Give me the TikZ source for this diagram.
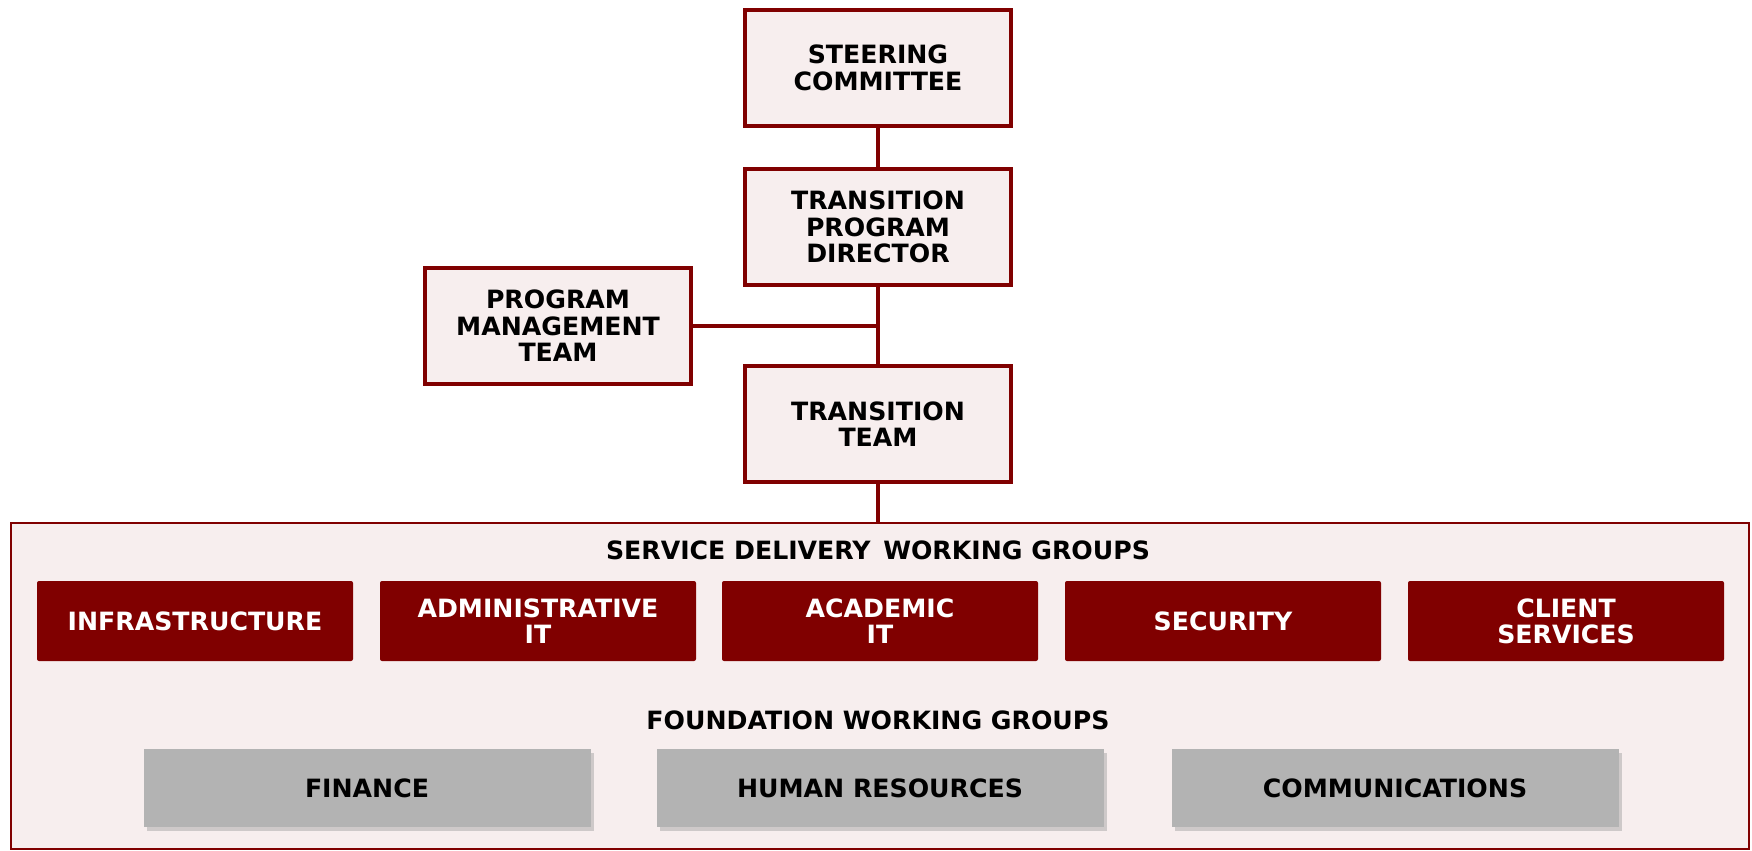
\documentclass[tikz,border=0pt]{standalone}
\usepackage{fontspec}
\setmainfont{DejaVu Sans}
\usepackage{tikz}
\usetikzlibrary{positioning,shadows}
\definecolor{granate}{HTML}{800000}
\definecolor{rosa}{HTML}{F7EEEE}
\definecolor{gris}{HTML}{B3B3B3}

\begin{document}
\begin{tikzpicture}
 	[x=0.5pt,y=-0.5pt,
 	caja/.style={rectangle,draw=granate,fill=rosa,line width=1.6pt,
 		inner sep=0pt,minimum width=133pt,minimum height=58pt,align=center,
 		font=\fontsize{12.6}{13.2}\selectfont\bfseries},
 	grupo/.style={rectangle,fill=granate,text=white,rounded corners=1pt,
 		inner sep=0pt,minimum width=158pt,minimum height=40pt,align=center,
 		font=\fontsize{12.6}{13}\selectfont\bfseries},
 	base/.style={rectangle,fill=gris,inner sep=0pt,
 		minimum width=223.5pt,minimum height=39pt,
 		drop shadow={shadow xshift=1.5pt,shadow yshift=-2pt,fill=black!35},
 		font=\fontsize{12.6}{13}\selectfont\bfseries},
 	titulo/.style={font=\fontsize{12.6}{13}\selectfont\bfseries},
 	linea/.style={draw=granate,line width=1.6pt}]
 	\useasboundingbox (0,0) rectangle (1752,851);
 	%  marco de los grupos de trabajo
 	\node[rectangle,draw=granate,fill=rosa,line width=1.2pt,inner sep=0pt,
 		minimum width=869pt,minimum height=163pt] (marco) at (880,686) {};
 	%  cajas de arriba
 	\node[caja] (steer) at (878,68) {STEERING\\COMMITTEE};
 	\node[caja] (tpd) at (878,227) {TRANSITION\\PROGRAM\\DIRECTOR};
 	\node[caja] (pmt) at (558,326) {PROGRAM\\MANAGEMENT\\TEAM};
 	\node[caja] (team) at (878,424) {TRANSITION\\TEAM};
 	%  lineas
 	\draw[linea] (steer) -- (tpd);
 	\draw[linea] (tpd) -- (team);
 	\draw[linea] (pmt.east) -- (pmt.east -| tpd.south);
 	\draw[linea] (team.south) -- (team.south |- marco.north);
 	%  grupos de servicio
 	\node[titulo] (sdwg) at (878,550) {SERVICE DELIVERY\enspace WORKING GROUPS};
 	\node[grupo] (infra) at (195,621) {INFRASTRUCTURE};
 	\node[grupo] (admin) at (538,621) {ADMINISTRATIVE\\IT};
 	\node[grupo] (acad) at (880,621) {ACADEMIC\\IT};
 	\node[grupo] (secu) at (1223,621) {SECURITY};
 	\node[grupo] (client) at (1566,621) {CLIENT\\SERVICES};
 	%  grupos de base
 	\node[titulo] (fwg) at (878,720) {FOUNDATION WORKING GROUPS};
 	\node[base] (fin) at (367,788) {FINANCE};
 	\node[base] (hr) at (880,788) {HUMAN RESOURCES};
 	\node[base] (comm) at (1395,788) {COMMUNICATIONS};
\end{tikzpicture}
\end{document}
